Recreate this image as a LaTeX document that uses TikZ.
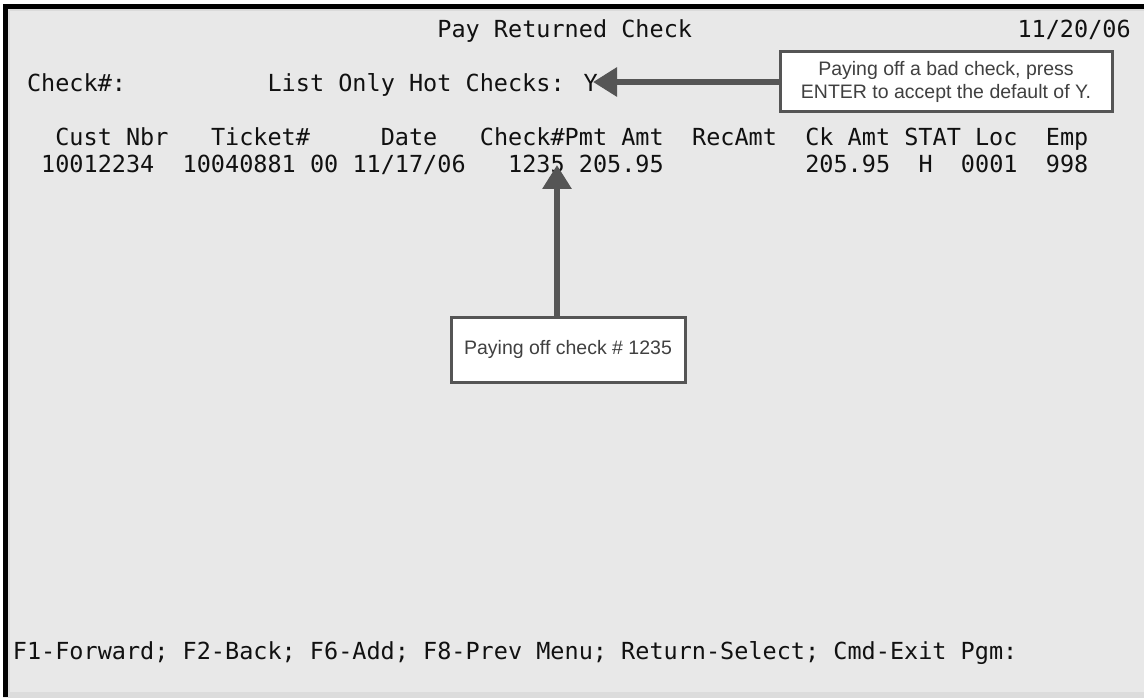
\documentclass[tikz,border=0pt]{standalone}
\usepackage{fontspec}
\usetikzlibrary{arrows.meta}
\newfontfamily\termfont{DejaVu Sans Mono}
\newfontfamily\notefont{Liberation Sans}
\definecolor{scrbg}{HTML}{E8E8E8}
\definecolor{scrband}{HTML}{DADADA}
\definecolor{scrbottom}{HTML}{DCDCDC}
\definecolor{callgray}{HTML}{555555}
\definecolor{notetext}{HTML}{404040}
\definecolor{termink}{HTML}{111111}
\begin{document}
\begin{tikzpicture}[x=1pt,y=-1pt,
  term/.style={inner sep=0pt, anchor=base west, text=termink,
    font=\termfont\fontsize{23.5}{23.5}\selectfont},
  notebox/.style={draw=callgray, line width=3pt, fill=white, inner sep=0pt,
    text=notetext, align=center, font=\notefont\fontsize{19.5}{23}\selectfont},
  callarrow/.style={draw=callgray, line width=6pt,
    -{Triangle[length=24pt,width=28pt]}}]
\useasboundingbox (0,0) rectangle (1144,698);
% screen
\fill[white] (0,0) rectangle (1144,698);
\fill[scrbg] (3,4) rectangle (1144,698);
\fill[scrband] (8,9) rectangle (1144,11);
\fill[scrband] (8,9) rectangle (10,692);
\fill[scrbottom] (8,692) rectangle (1144,698);
\fill[black] (3,4) rectangle (1144,9);
\fill[black] (3,4) rectangle (8,697);
% terminal text (col c at 12.7 + c*14.15, row r baseline 38 + r*27)
\node[term] (title) at ({12.7+30*14.15},38) {Pay Returned Check};
\node[term] (date)  at ({12.7+71*14.15},38) {11/20/06};
\node[term] (chk)   at ({12.7+1*14.15},92) {Check\#:};
\node[term] (hot)   at ({12.7+18*14.15},92) {List Only Hot Checks: Y};
\node[term] (h1) at ({12.7+3*14.15},146) {Cust Nbr};
\node[term] (h2) at ({12.7+14*14.15},146) {Ticket\#};
\node[term] (h3) at ({12.7+26*14.15},146) {Date};
\node[term] (h4) at ({12.7+33*14.15},146) {Check\#Pmt Amt};
\node[term] (h5) at ({12.7+48*14.15},146) {RecAmt};
\node[term] (h6) at ({12.7+56*14.15},146) {Ck Amt STAT Loc};
\node[term] (h7) at ({12.7+73*14.15},146) {Emp};
\node[term] (d1) at ({12.7+2*14.15},173) {10012234};
\node[term] (d2) at ({12.7+12*14.15},173) {10040881 00};
\node[term] (d3) at ({12.7+24*14.15},173) {11/17/06};
\node[term] (d4) at ({12.7+35*14.15},173) {1235 205.95};
\node[term] (d5) at ({12.7+56*14.15},173) {205.95};
\node[term] (d6) at ({12.7+64*14.15},173) {H};
\node[term] (d7) at ({12.7+67*14.15},173) {0001};
\node[term] (d8) at ({12.7+73*14.15},173) {998};
\node[term] (keys) at (12.7,659) {F1-Forward; F2-Back; F6-Add; F8-Prev Menu; Return-Select; Cmd-Exit Pgm:};
% callouts
\node[notebox, minimum width=332pt, minimum height=60pt] (note1) at (946,82)
  {Paying off a bad check, press\\ENTER to accept the default of Y.};
\node[notebox, minimum width=234pt, minimum height=65pt] (note2) at (568,349.5)
  {Paying off check \# 1235};
\coordinate (tipY) at (593,82);
\coordinate (tipC) at (557,165);
\draw[callarrow] (note1.west) -- (tipY);
\draw[callarrow] (tipC |- note2.north) -- (tipC);
\end{tikzpicture}
\end{document}
